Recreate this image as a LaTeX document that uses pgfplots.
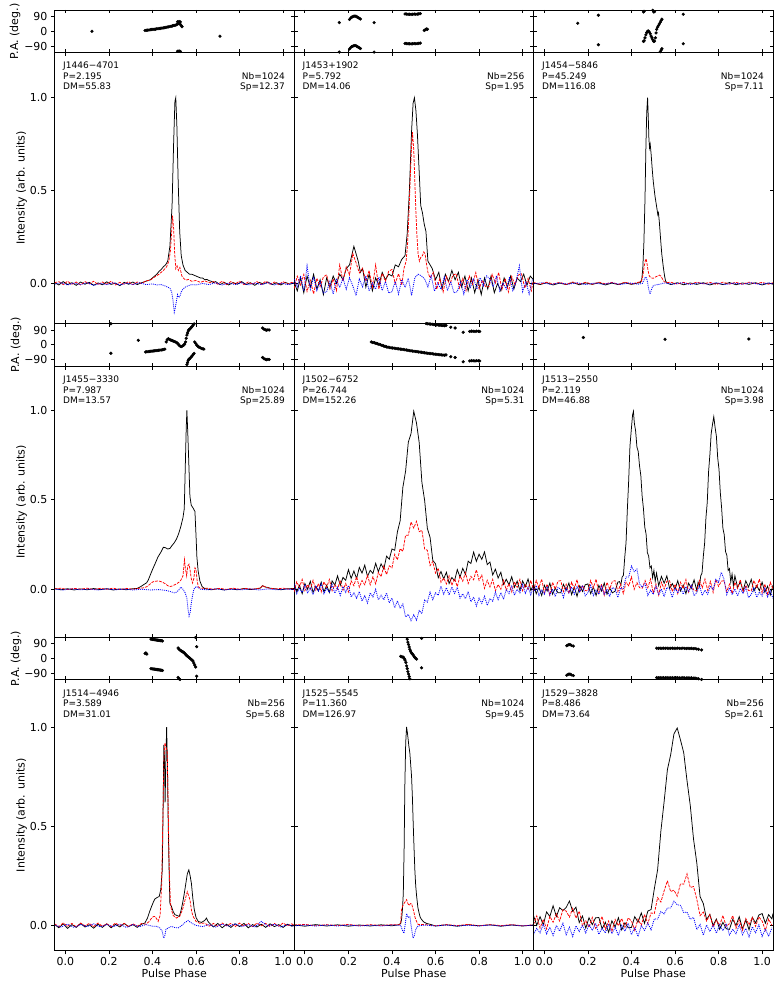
\documentclass[border=0pt]{standalone}
\usepackage{fontspec}
\setmainfont{DejaVu Sans}
\usepackage{pgfplots}
\pgfplotsset{compat=1.18}
\usepackage{pgfplotstable}

\pgfplotstableread{
x y
0.122 0
0.366 5
0.372 6
0.378 7
0.384 8
0.39 10
0.396 11
0.402 12
0.408 12
0.414 13
0.42 15
0.426 16
0.432 17
0.438 18
0.444 20
0.45 21
0.456 22
0.462 24
0.468 26
0.474 27
0.48 29
0.486 31
0.492 33
0.498 35
0.504 37
0.51 40
0.516 44
0.52 48
0.524 46
0.528 42
0.532 35
0.536 28
0.515 58
0.522 60
0.528 57
0.71 -30
}\paA
\pgfplotstableread{
x y
0.158 53
0.205 72
0.21 80
0.215 86
0.22 89
0.225 -88
0.23 -87
0.235 -89
0.24 87
0.245 83
0.25 79
0.255 75
0.318 53
0.46 -74
0.467 -75
0.474 -76
0.481 -76
0.488 -77
0.495 -76
0.502 -75
0.509 -76
0.516 -75
0.523 -74
0.53 -72
0.548 5
0.553 10
0.558 14
0.563 12
}\paB
\pgfplotstableread{
x y
0.153 49
0.248 -82
0.455 -62
0.458 -58
0.462 -40
0.466 -22
0.47 -8
0.474 0
0.478 2
0.482 -5
0.486 -15
0.49 -29
0.494 -40
0.498 -52
0.502 -62
0.506 -60
0.51 -40
0.513 -10
0.516 12
0.52 25
0.524 35
0.528 45
0.532 55
0.536 65
0.54 74
0.638 -76
}\paC
\pgfplotstableread{
x y
0.209 -51
0.335 28
0.368 -43
0.374 -42
0.38 -41
0.386 -40
0.392 -39
0.398 -38
0.404 -37
0.41 -36
0.416 -35
0.422 -34
0.428 -33
0.434 -32
0.44 -31
0.446 -30
0.452 -28
0.457 -26
0.463 18
0.468 32
0.473 38
0.478 33
0.483 30
0.488 28
0.493 25
0.498 22
0.503 20
0.508 16
0.513 12
0.518 5
0.523 -3
0.528 -9
0.533 -10
0.538 -7
0.543 -2
0.548 6
0.552 18
0.555 40
0.558 60
0.561 72
0.564 84
0.567 -88
0.571 -84
0.575 -78
0.579 -72
0.583 -66
0.587 -58
0.591 -52
0.594 18
0.599 8
0.604 -2
0.609 -9
0.614 -14
0.62 -18
0.626 -22
0.632 -24
0.636 -26
0.906 -77
0.912 -84
0.918 -88
0.924 -90
0.93 -88
0.936 -89
}\paD
\pgfplotstableread{
x y
0.305 18
0.312 15
0.319 13
0.326 10
0.333 7
0.34 4
0.347 1
0.354 -3
0.361 -6
0.368 -9
0.375 -12
0.382 -14
0.389 -16
0.396 -18
0.403 -19
0.41 -20
0.417 -22
0.424 -23
0.431 -24
0.438 -26
0.445 -27
0.452 -28
0.459 -30
0.466 -31
0.473 -33
0.48 -35
0.487 -36
0.494 -38
0.501 -39
0.508 -40
0.515 -41
0.522 -43
0.529 -44
0.536 -45
0.543 -47
0.55 -48
0.557 -50
0.564 -51
0.571 -52
0.578 -53
0.585 -54
0.592 -56
0.599 -57
0.606 -58
0.613 -59
0.62 -60
0.627 -61
0.634 -62
0.641 -63
0.648 -61
0.67 -72
0.69 -77
0.727 77
0.757 82
0.765 84
0.773 83
0.781 82
0.789 84
0.797 83
0.803 82
}\paE
\pgfplotstableread{
x y
0.179 45
0.554 34
0.939 36
}\paF
\pgfplotstableread{
x y
0.366 30
0.37 34
0.374 27
0.393 -62
0.398 -63
0.403 -64
0.408 -65
0.413 -66
0.418 -67
0.423 -68
0.428 -69
0.433 -70
0.438 -71
0.443 -72
0.446 -73
0.518 64
0.522 56
0.526 52
0.53 48
0.534 45
0.538 42
0.542 38
0.546 34
0.55 28
0.554 22
0.558 17
0.562 12
0.566 8
0.57 4
0.574 -1
0.578 -6
0.582 -10
0.586 -16
0.59 -28
0.594 -40
0.598 -52
0.603 72
}\paG
\pgfplotstableread{
x y
0.44 13
0.446 10
0.452 8
0.456 0
0.46 -10
0.464 -25
0.467 -45
0.47 -62
0.473 -80
0.476 85
0.479 70
0.482 56
0.485 45
0.489 35
0.493 28
0.497 22
0.501 14
0.505 6
0.509 1
0.513 -4
0.536 -57
}\paH
\pgfplotstableread{
x y
0.103 78
0.108 82
0.113 85
0.118 84
0.124 80
0.133 76
0.516 63
0.524 62
0.532 63
0.54 62
0.548 63
0.556 62
0.564 63
0.572 62
0.58 62
0.588 63
0.596 62
0.604 62
0.612 63
0.62 62
0.628 62
0.636 63
0.644 62
0.652 61
0.66 62
0.668 61
0.676 62
0.684 60
0.692 61
0.7 58
0.708 56
0.722 52
}\paI

\pgfplotsset{
  base/.style={scale only axis, width=239.5pt, xmin=-0.05, xmax=1.05,
    xtick={0,0.2,0.4,0.6,0.8,1.0}, xticklabels={}, yticklabels={},
    major tick length=3.5pt,
    tick style={line width=0.8pt, black},
    axis line style={line width=0.8pt, black},
    tick align=inside, xtick pos=both, ytick pos=both,
    anchor=south west, clip=true,
    tick label style={font=\fontsize{11}{13}\selectfont}},
  pap/.style={base, height=42.6pt, ymin=-130, ymax=130, ytick={-90,0,90}},
  intp/.style={base, height=271pt, ytick={0,0.5,1}},
  r1/.style={ymin=-0.216, ymax=1.243},
  r2/.style={ymin=-0.268, ymax=1.247},
  r3/.style={ymin=-0.128, ymax=1.238},
  Is/.style={black, line width=0.75pt},
  Ls/.style={red, line width=0.75pt, dash pattern=on 2.8pt off 1.2pt},
  Vs/.style={blue, line width=0.8pt, dash pattern=on 1pt off 1pt},
  pam/.style={only marks, mark=*, mark size=1.4pt, black},
}
\newcommand{\paplot}[1]{%
  \addplot[pam] table[x=x,y=y]{#1};
  \addplot[pam] table[x=x,y expr=\thisrow{y}+180]{#1};
  \addplot[pam] table[x=x,y expr=\thisrow{y}-180]{#1};
}
\newcommand{\annfont}{\fontsize{9}{10.5}\selectfont}
\newcommand{\lblfont}{\fontsize{11}{13}\selectfont}
\newcommand{\ann}[7]{%
  \node[anchor=base west,inner sep=0pt,font=\annfont] at ({#1+8.5},{#2-16.4}) {#3};
  \node[anchor=base west,inner sep=0pt,font=\annfont] at ({#1+8.5},{#2-27}) {P=#4};
  \node[anchor=base west,inner sep=0pt,font=\annfont] at ({#1+8.5},{#2-37.4}) {DM=#5};
  \node[anchor=base east,inner sep=0pt,font=\annfont] at ({#1+230.5},{#2-27}) {Nb=#6};
  \node[anchor=base east,inner sep=0pt,font=\annfont] at ({#1+230.5},{#2-37.4}) {Sp=#7};
}

\begin{document}
\begin{tikzpicture}[x=1pt,y=1pt]
\useasboundingbox (0,0) rectangle (781,991);

% ===================== ROW 1 =====================
\begin{axis}[pap, at={(54.5pt,938.4pt)}, ytick pos=right]
\paplot{\paA}
\end{axis}
\begin{axis}[pap, at={(54.5pt,938.4pt)}, ytick pos=left, tick align=outside, xtick=\empty, yticklabels={−90,0,90}]
\end{axis}
\begin{axis}[intp, r1, at={(54.5pt,667.4pt)}, ytick pos=right]
\addplot[Is] coordinates {(-0.05,0.005)(-0.03,-0.008)(-0.01,0.01)(0.01,-0.006)(0.03,0.004)(0.05,-0.01)(0.07,0.008)(0.09,-0.004)(0.11,0.006)(0.13,-0.01)(0.15,0.003)(0.17,-0.007)(0.19,0.009)(0.21,-0.005)(0.23,0.002)(0.25,-0.012)(0.27,0.006)(0.29,-0.004)(0.31,0.008)(0.33,-0.006)(0.35,0.004)(0.37,0.012)(0.39,0.02)(0.41,0.04)(0.42,0.05)(0.43,0.065)(0.44,0.075)(0.45,0.09)(0.46,0.1)(0.47,0.12)(0.48,0.2)(0.49,0.42)(0.497,0.75)(0.503,0.98)(0.507,1.0)(0.512,0.85)(0.518,0.55)(0.525,0.28)(0.532,0.15)(0.54,0.1)(0.55,0.07)(0.56,0.06)(0.57,0.05)(0.58,0.05)(0.59,0.045)(0.6,0.04)(0.61,0.035)(0.62,0.03)(0.63,0.03)(0.64,0.02)(0.65,0.022)(0.66,0.015)(0.67,0.012)(0.68,0.005)(0.69,0.01)(0.71,-0.006)(0.73,0.006)(0.75,-0.008)(0.77,0.005)(0.79,-0.004)(0.81,0.01)(0.83,-0.006)(0.85,0.004)(0.87,-0.01)(0.89,0.006)(0.91,-0.003)(0.93,0.008)(0.95,-0.006)(0.97,0.004)(0.99,-0.008)(1.01,0.006)(1.03,-0.004)(1.05,0.003)};
\addplot[Ls] coordinates {(-0.05,0.004)(-0.03,0.01)(-0.01,-0.006)(0.01,0.012)(0.03,-0.004)(0.05,0.008)(0.07,-0.008)(0.09,0.01)(0.11,-0.002)(0.13,0.012)(0.15,-0.006)(0.17,0.008)(0.19,-0.004)(0.21,0.012)(0.23,-0.008)(0.25,0.006)(0.27,-0.004)(0.29,0.01)(0.31,-0.006)(0.33,0.008)(0.35,0.0)(0.37,0.014)(0.39,0.018)(0.41,0.035)(0.43,0.05)(0.45,0.07)(0.465,0.09)(0.475,0.12)(0.482,0.17)(0.487,0.26)(0.492,0.365)(0.497,0.3)(0.502,0.16)(0.507,0.08)(0.513,0.095)(0.519,0.07)(0.526,0.086)(0.535,0.04)(0.545,0.025)(0.555,0.018)(0.565,0.022)(0.58,0.012)(0.6,0.016)(0.62,0.006)(0.64,0.014)(0.66,0.004)(0.68,0.01)(0.7,-0.004)(0.72,0.012)(0.74,-0.006)(0.76,0.01)(0.78,-0.002)(0.8,0.012)(0.82,-0.006)(0.84,0.008)(0.86,-0.004)(0.88,0.01)(0.9,-0.006)(0.92,0.012)(0.94,-0.004)(0.96,0.008)(0.98,-0.006)(1.0,0.01)(1.02,-0.004)(1.04,0.006)(1.05,0.0)};
\addplot[Vs] coordinates {(-0.05,-0.004)(-0.02,0.004)(0.01,-0.008)(0.04,0.002)(0.07,-0.006)(0.1,0.004)(0.13,-0.01)(0.16,0.0)(0.19,-0.006)(0.22,0.004)(0.25,-0.008)(0.28,0.002)(0.31,-0.006)(0.34,0.004)(0.37,-0.006)(0.4,-0.002)(0.42,-0.008)(0.44,-0.006)(0.455,-0.012)(0.47,-0.02)(0.48,-0.025)(0.488,-0.045)(0.494,-0.09)(0.5,-0.155)(0.505,-0.13)(0.51,-0.095)(0.515,-0.06)(0.52,-0.075)(0.526,-0.07)(0.532,-0.045)(0.54,-0.03)(0.55,-0.02)(0.56,-0.014)(0.58,-0.006)(0.6,-0.008)(0.63,0.0)(0.66,-0.006)(0.69,0.004)(0.72,-0.008)(0.75,0.002)(0.78,-0.006)(0.81,0.004)(0.84,-0.008)(0.87,0.002)(0.9,-0.006)(0.93,0.004)(0.96,-0.008)(0.99,0.002)(1.02,-0.006)(1.05,0.002)};
\end{axis}
\begin{axis}[intp, r1, at={(54.5pt,667.4pt)}, ytick pos=left, tick align=outside, xtick=\empty, yticklabels={0.0,0.5,1.0}]
\end{axis}

\begin{axis}[pap, at={(294pt,938.4pt)}]
\paplot{\paB}
\end{axis}
\begin{axis}[intp, r1, at={(294pt,667.4pt)}]
\addplot[Is] coordinates {(-0.05,0.01)(-0.035,-0.04)(-0.02,0.03)(-0.005,-0.05)(0.01,0.04)(0.025,-0.02)(0.04,0.05)(0.055,-0.03)(0.07,0.02)(0.085,-0.06)(0.1,0.03)(0.115,-0.02)(0.13,0.04)(0.145,0.0)(0.16,0.05)(0.175,0.02)(0.19,0.08)(0.205,0.1)(0.215,0.15)(0.225,0.2)(0.235,0.16)(0.245,0.12)(0.255,0.06)(0.265,0.08)(0.28,-0.02)(0.295,0.05)(0.31,-0.04)(0.325,0.03)(0.34,-0.01)(0.355,0.06)(0.37,0.02)(0.385,0.05)(0.4,0.04)(0.415,0.1)(0.43,0.09)(0.445,0.13)(0.46,0.15)(0.47,0.27)(0.48,0.5)(0.49,0.82)(0.497,0.97)(0.503,1.0)(0.51,0.93)(0.517,0.8)(0.525,0.6)(0.532,0.42)(0.54,0.38)(0.548,0.32)(0.556,0.28)(0.565,0.12)(0.575,0.1)(0.585,0.08)(0.6,0.02)(0.615,0.06)(0.63,-0.03)(0.645,0.05)(0.66,0.01)(0.675,0.07)(0.69,0.02)(0.705,0.06)(0.72,-0.02)(0.735,0.04)(0.75,-0.04)(0.765,0.03)(0.78,-0.05)(0.795,0.02)(0.81,-0.06)(0.825,0.03)(0.84,-0.03)(0.855,0.04)(0.87,-0.05)(0.885,0.0)(0.9,-0.04)(0.915,0.03)(0.93,-0.02)(0.945,0.04)(0.96,-0.03)(0.975,0.03)(0.99,0.01)(1.005,0.05)(1.02,-0.01)(1.035,0.04)(1.05,0.02)};
\addplot[Ls] coordinates {(-0.05,-0.028)(-0.035,0.039)(-0.02,-0.008)(-0.005,0.049)(0.01,-0.042)(0.025,0.017)(0.04,-0.056)(0.055,0.028)(0.07,-0.017)(0.085,0.035)(0.1,0.047)(0.115,-0.029)(0.13,0.025)(0.145,-0.039)(0.16,0.1)(0.175,0.011)(0.19,0.089)(0.205,0.046)(0.22,0.161)(0.235,0.112)(0.25,0.057)(0.265,0.082)(0.28,0.012)(0.295,0.07)(0.31,-0.02)(0.325,0.1)(0.34,-0.031)(0.355,0.055)(0.37,0.012)(0.385,0.066)(0.4,0.075)(0.415,-0.001)(0.43,0.053)(0.445,-0.009)(0.455,0.08)(0.465,0.12)(0.472,0.22)(0.478,0.38)(0.485,0.6)(0.49,0.74)(0.494,0.815)(0.5,0.72)(0.505,0.55)(0.51,0.38)(0.515,0.25)(0.52,0.16)(0.526,0.12)(0.532,0.14)(0.54,0.15)(0.546,0.17)(0.552,0.16)(0.558,0.11)(0.565,0.06)(0.575,0.03)(0.59,0.059)(0.605,-0.032)(0.62,0.027)(0.635,-0.046)(0.65,0.038)(0.665,-0.007)(0.68,0.045)(0.695,0.052)(0.71,-0.025)(0.725,0.027)(0.74,-0.039)(0.755,0.041)(0.77,-0.004)(0.785,0.059)(0.8,-0.029)(0.815,0.018)(0.83,-0.018)(0.845,-0.018)(0.86,0.049)(0.875,0.002)(0.89,0.059)(0.905,-0.032)(0.92,0.027)(0.935,-0.046)(0.95,0.038)(0.965,-0.007)(0.98,0.045)(0.995,0.052)(1.01,-0.025)(1.025,0.027)(1.04,-0.039)(1.05,0.02)};
\addplot[Vs] coordinates {(-0.05,0.024)(-0.035,-0.018)(-0.02,0.041)(-0.005,-0.041)(0.01,0.095)(0.025,-0.031)(0.04,0.034)(0.055,-0.038)(0.07,0.011)(0.085,-0.051)(0.1,-0.044)(0.115,0.011)(0.13,-0.057)(0.145,0.021)(0.16,-0.021)(0.175,0.028)(0.19,-0.031)(0.205,0.031)(0.22,-0.013)(0.235,-0.065)(0.25,0.024)(0.265,-0.018)(0.28,0.041)(0.295,-0.041)(0.31,0.003)(0.325,-0.031)(0.34,0.034)(0.355,-0.038)(0.37,0.011)(0.385,-0.051)(0.4,-0.044)(0.415,0.011)(0.43,-0.057)(0.445,0.021)(0.46,-0.021)(0.475,0.028)(0.49,-0.065)(0.505,0.031)(0.52,0.05)(0.535,0.041)(0.55,0.024)(0.565,-0.018)(0.58,0.041)(0.595,-0.041)(0.61,0.003)(0.625,-0.031)(0.64,0.034)(0.655,-0.038)(0.67,0.011)(0.685,-0.051)(0.7,-0.044)(0.715,0.011)(0.73,-0.057)(0.745,0.021)(0.76,-0.021)(0.775,0.028)(0.79,-0.031)(0.805,0.031)(0.82,-0.013)(0.835,0.041)(0.85,0.024)(0.865,-0.018)(0.88,0.041)(0.895,-0.041)(0.91,0.003)(0.925,-0.031)(0.94,0.034)(0.955,-0.038)(0.97,0.011)(0.985,0.095)(1.0,-0.044)(1.015,0.011)(1.03,-0.057)(1.045,0.021)};
\end{axis}

\begin{axis}[pap, at={(533.5pt,938.4pt)}]
\paplot{\paC}
\end{axis}
\begin{axis}[intp, r1, at={(533.5pt,667.4pt)}]
\addplot[Is] coordinates {(-0.05,0.003)(-0.02,-0.006)(0.01,0.004)(0.04,-0.008)(0.07,0.002)(0.1,-0.006)(0.13,0.005)(0.16,-0.007)(0.19,0.003)(0.22,-0.005)(0.25,0.004)(0.28,-0.008)(0.31,0.002)(0.34,-0.006)(0.37,0.004)(0.4,-0.005)(0.43,0.003)(0.44,0.005)(0.447,0.02)(0.452,0.08)(0.457,0.22)(0.462,0.45)(0.466,0.72)(0.47,0.92)(0.474,1.0)(0.477,0.9)(0.48,0.78)(0.483,0.73)(0.486,0.75)(0.49,0.7)(0.495,0.62)(0.5,0.55)(0.508,0.47)(0.516,0.41)(0.521,0.37)(0.524,0.38)(0.528,0.33)(0.533,0.25)(0.539,0.16)(0.546,0.09)(0.552,0.04)(0.557,0.012)(0.565,0.002)(0.58,-0.006)(0.61,0.004)(0.64,-0.007)(0.67,0.003)(0.7,-0.005)(0.73,0.004)(0.76,-0.008)(0.79,0.002)(0.82,-0.006)(0.85,0.005)(0.88,-0.007)(0.91,0.003)(0.94,-0.005)(0.97,0.004)(1.0,-0.008)(1.03,0.002)(1.05,-0.004)};
\addplot[Ls] coordinates {(-0.05,0.005)(-0.02,-0.004)(0.01,0.007)(0.04,-0.003)(0.07,0.006)(0.1,-0.005)(0.13,0.008)(0.16,-0.003)(0.19,0.006)(0.22,-0.004)(0.25,0.007)(0.28,-0.002)(0.31,0.006)(0.34,-0.005)(0.37,0.007)(0.4,-0.003)(0.43,0.006)(0.445,0.01)(0.452,0.04)(0.458,0.09)(0.463,0.12)(0.467,0.133)(0.471,0.11)(0.476,0.07)(0.482,0.04)(0.49,0.03)(0.5,0.028)(0.51,0.035)(0.52,0.04)(0.528,0.045)(0.535,0.04)(0.542,0.025)(0.55,0.01)(0.56,0.004)(0.58,0.007)(0.61,-0.003)(0.64,0.006)(0.67,-0.004)(0.7,0.007)(0.73,-0.002)(0.76,0.006)(0.79,-0.005)(0.82,0.007)(0.85,-0.003)(0.88,0.006)(0.91,-0.004)(0.94,0.007)(0.97,-0.002)(1.0,0.006)(1.03,-0.004)(1.05,0.004)};
\addplot[Vs] coordinates {(-0.05,-0.002)(-0.01,0.004)(0.03,-0.005)(0.07,0.003)(0.11,-0.004)(0.15,0.004)(0.19,-0.006)(0.23,0.002)(0.27,-0.004)(0.31,0.004)(0.35,-0.005)(0.39,0.003)(0.43,-0.004)(0.45,0.0)(0.458,0.02)(0.464,0.035)(0.469,0.03)(0.474,0.005)(0.479,-0.03)(0.485,-0.057)(0.49,-0.04)(0.497,-0.015)(0.51,-0.008)(0.53,-0.004)(0.55,0.003)(0.59,-0.004)(0.63,0.004)(0.67,-0.005)(0.71,0.003)(0.75,-0.004)(0.79,0.004)(0.83,-0.006)(0.87,0.002)(0.91,-0.004)(0.95,0.004)(0.99,-0.005)(1.03,0.003)(1.05,-0.002)};
\end{axis}

% ===================== ROW 2 =====================
\begin{axis}[pap, at={(54.5pt,624.8pt)}, ytick pos=right]
\paplot{\paD}
\end{axis}
\begin{axis}[pap, at={(54.5pt,624.8pt)}, ytick pos=left, tick align=outside, xtick=\empty, yticklabels={−90,0,90}]
\end{axis}
\begin{axis}[intp, r2, at={(54.5pt,353.8pt)}, ytick pos=right]
\addplot[Is] coordinates {(-0.05,0.004)(-0.02,-0.003)(0.01,0.003)(0.04,-0.004)(0.07,0.002)(0.1,-0.003)(0.13,0.004)(0.16,-0.002)(0.19,0.003)(0.22,-0.004)(0.25,0.002)(0.28,-0.003)(0.31,0.003)(0.33,0.005)(0.342,0.012)(0.355,0.022)(0.365,0.03)(0.373,0.036)(0.38,0.05)(0.39,0.08)(0.4,0.11)(0.411,0.14)(0.425,0.18)(0.44,0.21)(0.45,0.235)(0.46,0.232)(0.47,0.225)(0.48,0.228)(0.49,0.245)(0.5,0.26)(0.51,0.28)(0.52,0.31)(0.53,0.35)(0.54,0.4)(0.546,0.45)(0.551,0.7)(0.555,0.9)(0.558,1.0)(0.562,0.88)(0.567,0.7)(0.572,0.52)(0.578,0.47)(0.586,0.455)(0.595,0.435)(0.6,0.3)(0.604,0.18)(0.61,0.1)(0.618,0.045)(0.628,0.015)(0.64,0.004)(0.67,-0.003)(0.7,0.003)(0.73,-0.004)(0.76,0.002)(0.79,-0.003)(0.82,0.004)(0.85,-0.002)(0.88,0.003)(0.895,0.006)(0.905,0.02)(0.912,0.016)(0.92,0.012)(0.93,0.01)(0.94,0.006)(0.96,0.003)(0.99,-0.003)(1.02,0.003)(1.05,0.004)};
\addplot[Ls] coordinates {(-0.05,0.002)(-0.02,0.006)(0.01,-0.002)(0.04,0.005)(0.07,0.0)(0.1,0.006)(0.13,-0.002)(0.16,0.005)(0.19,0.0)(0.22,0.006)(0.25,-0.002)(0.28,0.005)(0.31,0.0)(0.34,0.006)(0.36,0.008)(0.375,0.015)(0.39,0.03)(0.4,0.04)(0.41,0.045)(0.43,0.046)(0.445,0.04)(0.46,0.03)(0.47,0.02)(0.48,0.015)(0.49,0.018)(0.5,0.024)(0.51,0.03)(0.52,0.038)(0.53,0.05)(0.54,0.075)(0.547,0.165)(0.552,0.11)(0.557,0.075)(0.562,0.13)(0.568,0.14)(0.573,0.105)(0.578,0.06)(0.584,0.035)(0.59,0.06)(0.595,0.12)(0.6,0.11)(0.605,0.05)(0.61,0.015)(0.62,0.005)(0.65,0.006)(0.68,0.0)(0.71,0.005)(0.74,-0.001)(0.77,0.006)(0.8,0.0)(0.83,0.005)(0.86,0.0)(0.89,0.006)(0.9,0.012)(0.907,0.022)(0.915,0.014)(0.925,0.01)(0.94,0.005)(0.97,0.002)(1.0,0.006)(1.03,0.0)(1.05,0.004)};
\addplot[Vs] coordinates {(-0.05,0.0)(-0.01,-0.004)(0.03,0.002)(0.07,-0.003)(0.11,0.001)(0.15,-0.004)(0.19,0.002)(0.23,-0.003)(0.27,0.001)(0.31,-0.004)(0.35,0.0)(0.39,-0.004)(0.43,-0.002)(0.46,-0.006)(0.48,-0.012)(0.5,-0.02)(0.51,-0.016)(0.52,-0.006)(0.53,0.012)(0.54,0.0)(0.55,-0.02)(0.558,-0.05)(0.563,-0.11)(0.568,-0.15)(0.573,-0.13)(0.578,-0.08)(0.584,-0.035)(0.59,0.0)(0.6,0.015)(0.61,0.01)(0.62,0.0)(0.65,-0.003)(0.69,0.002)(0.73,-0.004)(0.77,0.001)(0.81,-0.003)(0.85,0.002)(0.89,-0.004)(0.93,0.002)(0.97,-0.003)(1.01,0.001)(1.05,-0.002)};
\end{axis}
\begin{axis}[intp, r2, at={(54.5pt,353.8pt)}, ytick pos=left, tick align=outside, xtick=\empty, yticklabels={0.0,0.5,1.0}]
\end{axis}

\begin{axis}[pap, at={(294pt,624.8pt)}]
\paplot{\paE}
\end{axis}
\begin{axis}[intp, r2, at={(294pt,353.8pt)}]
\addplot[Is] coordinates {(-0.05,0.04)(-0.0375,-0.015)(-0.025,0.022)(-0.0125,-0.025)(0,0.032)(0.0125,0.0)(0.025,0.045)(0.0375,-0.018)(0.05,0.016)(0.0625,-0.01)(0.075,0.04)(0.0875,-0.015)(0.1,0.022)(0.1125,-0.018)(0.125,0.047)(0.1375,0.023)(0.15,0.075)(0.1625,0.022)(0.175,0.066)(0.1875,0.05)(0.2,0.11)(0.2125,0.06)(0.225,0.102)(0.2375,0.06)(0.25,0.122)(0.2625,0.09)(0.275,0.135)(0.2875,0.072)(0.3,0.106)(0.3125,0.088)(0.325,0.145)(0.3375,0.098)(0.35,0.142)(0.3625,0.112)(0.375,0.185)(0.3875,0.168)(0.4,0.225)(0.4125,0.218)(0.425,0.321)(0.4375,0.383)(0.45,0.57)(0.4625,0.66)(0.475,0.822)(0.4875,0.87)(0.5,0.995)(0.5125,0.93)(0.525,0.82)(0.5375,0.597)(0.55,0.496)(0.5625,0.34)(0.575,0.29)(0.5875,0.161)(0.6,0.142)(0.6125,0.064)(0.625,0.099)(0.6375,0.058)(0.65,0.095)(0.6625,0.032)(0.675,0.066)(0.6875,0.048)(0.7,0.11)(0.7125,0.068)(0.725,0.117)(0.7375,0.083)(0.75,0.157)(0.7625,0.144)(0.775,0.208)(0.7875,0.156)(0.8,0.196)(0.8125,0.167)(0.825,0.209)(0.8375,0.138)(0.85,0.152)(0.8625,0.08)(0.875,0.112)(0.8875,0.063)(0.9,0.095)(0.9125,0.027)(0.925,0.056)(0.9375,0.025)(0.95,0.07)(0.9625,0.011)(0.975,0.045)(0.9875,-0.006)(1.0,0.047)(1.0125,0.014)(1.025,0.058)(1.0375,-0.007)(1.05,0.026)};
\addplot[Ls] coordinates {(-0.05,-0.015)(-0.0375,0.042)(-0.025,0.01)(-0.0125,0.055)(0,-0.008)(0.0125,0.026)(0.025,0.0)(0.0375,0.05)(0.05,-0.005)(0.0625,0.032)(0.075,-0.015)(0.0875,0.042)(0.1,0.01)(0.1125,0.055)(0.125,-0.008)(0.1375,0.026)(0.15,0.0)(0.1625,0.05)(0.175,-0.005)(0.1875,0.032)(0.2,-0.015)(0.2125,0.047)(0.225,0.02)(0.2375,0.07)(0.25,0.012)(0.2625,0.049)(0.275,0.025)(0.2875,0.078)(0.3,0.025)(0.3125,0.07)(0.325,0.03)(0.3375,0.095)(0.35,0.07)(0.3625,0.13)(0.375,0.082)(0.3875,0.131)(0.4,0.12)(0.4125,0.195)(0.425,0.165)(0.4375,0.227)(0.45,0.212)(0.4625,0.302)(0.475,0.302)(0.4875,0.376)(0.5,0.342)(0.5125,0.38)(0.525,0.322)(0.5375,0.33)(0.55,0.225)(0.5625,0.218)(0.575,0.132)(0.5875,0.155)(0.6,0.09)(0.6125,0.118)(0.625,0.039)(0.6375,0.063)(0.65,0.03)(0.6625,0.075)(0.675,0.022)(0.6875,0.06)(0.7,0.015)(0.7125,0.075)(0.725,0.045)(0.7375,0.093)(0.75,0.032)(0.7625,0.072)(0.775,0.053)(0.7875,0.109)(0.8,0.05)(0.8125,0.079)(0.825,0.005)(0.8375,0.05)(0.85,0.013)(0.8625,0.055)(0.875,-0.008)(0.8875,0.026)(0.9,0.0)(0.9125,0.05)(0.925,-0.005)(0.9375,0.032)(0.95,-0.015)(0.9625,0.042)(0.975,0.01)(0.9875,0.055)(1.0,-0.008)(1.0125,0.026)(1.025,0.0)(1.0375,0.05)(1.05,-0.005)};
\addplot[Vs] coordinates {(-0.05,0.031)(-0.0375,-0.025)(-0.025,0.005)(-0.0125,-0.018)(0,0.027)(0.0125,-0.022)(0.025,0.011)(0.0375,-0.031)(0.05,0.02)(0.0625,-0.009)(0.075,0.031)(0.0875,-0.025)(0.1,0.005)(0.1125,-0.018)(0.125,0.027)(0.1375,-0.022)(0.15,0.011)(0.1625,-0.034)(0.175,0.015)(0.1875,-0.017)(0.2,0.021)(0.2125,-0.043)(0.225,-0.02)(0.2375,-0.05)(0.25,-0.013)(0.2625,-0.066)(0.275,-0.037)(0.2875,-0.077)(0.3,-0.02)(0.3125,-0.043)(0.325,0.0)(0.3375,-0.059)(0.35,-0.033)(0.3625,-0.059)(0.375,-0.02)(0.3875,-0.076)(0.4,-0.049)(0.4125,-0.104)(0.425,-0.065)(0.4375,-0.107)(0.45,-0.082)(0.4625,-0.155)(0.475,-0.14)(0.4875,-0.176)(0.5,-0.143)(0.5125,-0.173)(0.525,-0.119)(0.5375,-0.136)(0.55,-0.06)(0.5625,-0.072)(0.575,-0.016)(0.5875,-0.058)(0.6,-0.02)(0.6125,-0.034)(0.625,0.018)(0.6375,-0.028)(0.65,0.009)(0.6625,-0.032)(0.675,0.013)(0.6875,-0.023)(0.7,0.011)(0.7125,-0.05)(0.725,-0.025)(0.7375,-0.053)(0.75,-0.013)(0.7625,-0.07)(0.775,-0.044)(0.7875,-0.094)(0.8,-0.05)(0.8125,-0.079)(0.825,-0.039)(0.8375,-0.09)(0.85,-0.052)(0.8625,-0.067)(0.875,-0.016)(0.8875,-0.058)(0.9,-0.019)(0.9125,-0.056)(0.925,0.0)(0.9375,-0.024)(0.95,0.021)(0.9625,-0.033)(0.975,0.0)(0.9875,-0.02)(1.0,0.027)(1.0125,-0.022)(1.025,0.011)(1.0375,-0.031)(1.05,0.02)};
\end{axis}

\begin{axis}[pap, at={(533.5pt,624.8pt)}]
\paplot{\paF}
\end{axis}
\begin{axis}[intp, r2, at={(533.5pt,353.8pt)}]
\addplot[Is] coordinates {(-0.05,0.03)(-0.0375,-0.025)(-0.025,0.012)(-0.0125,-0.035)(0,0.022)(0.0125,-0.01)(0.025,0.035)(0.0375,-0.028)(0.05,0.006)(0.0625,-0.02)(0.075,-0.02)(0.0875,0.028)(0.1,-0.006)(0.1125,0.035)(0.125,-0.03)(0.1375,0.012)(0.15,-0.04)(0.1625,0.02)(0.175,-0.012)(0.1875,0.025)(0.2,0.03)(0.2125,-0.025)(0.225,0.012)(0.2375,-0.035)(0.25,0.022)(0.2625,-0.01)(0.275,0.035)(0.2875,-0.028)(0.3,0.006)(0.3125,-0.02)(0.325,-0.01)(0.3375,0.04)(0.345,0.043)(0.351,0.022)(0.357,0.068)(0.363,0.078)(0.369,0.177)(0.375,0.26)(0.381,0.445)(0.387,0.603)(0.393,0.8)(0.399,0.89)(0.405,0.975)(0.409,0.995)(0.413,0.93)(0.419,0.885)(0.425,0.795)(0.431,0.77)(0.437,0.69)(0.443,0.635)(0.449,0.52)(0.455,0.45)(0.461,0.348)(0.467,0.31)(0.473,0.205)(0.479,0.185)(0.485,0.12)(0.491,0.13)(0.497,0.065)(0.503,0.105)(0.509,0.045)(0.515,0.09)(0.525,0.02)(0.5375,0.072)(0.55,0.034)(0.5625,0.075)(0.575,0.004)(0.5875,0.032)(0.6,0.0)(0.6125,0.048)(0.625,-0.01)(0.6375,0.024)(0.65,-0.025)(0.6625,0.034)(0.675,0.005)(0.6875,0.053)(0.7,-0.008)(0.706,0.04)(0.712,0.015)(0.718,0.075)(0.724,0.09)(0.73,0.185)(0.736,0.258)(0.742,0.4)(0.748,0.485)(0.754,0.655)(0.76,0.75)(0.766,0.87)(0.772,0.92)(0.778,0.965)(0.784,0.905)(0.79,0.855)(0.796,0.735)(0.802,0.67)(0.808,0.54)(0.814,0.455)(0.82,0.34)(0.826,0.305)(0.832,0.21)(0.838,0.19)(0.844,0.105)(0.85,0.115)(0.856,0.04)(0.862,0.085)(0.868,0.02)(0.875,0.075)(0.8875,0.01)(0.9,0.042)(0.9125,-0.008)(0.925,0.047)(0.9375,0.012)(0.95,0.055)(0.9625,-0.011)(0.975,0.021)(0.9875,-0.008)(1.0,0.04)(1.0125,-0.017)(1.025,0.017)(1.0375,-0.032)(1.05,0.022)};
\addplot[Ls] coordinates {(-0.05,-0.009)(-0.0375,0.049)(-0.025,0.008)(-0.0125,0.057)(0,-0.021)(0.0125,0.029)(0.025,-0.033)(0.0375,0.039)(0.05,0.001)(0.0625,0.045)(0.075,0.048)(0.0875,-0.013)(0.1,0.028)(0.1125,-0.024)(0.125,0.039)(0.1375,0.004)(0.15,0.054)(0.1625,-0.016)(0.175,0.022)(0.1875,-0.007)(0.2,-0.009)(0.2125,0.049)(0.225,0.008)(0.2375,0.057)(0.25,-0.021)(0.2625,0.029)(0.275,-0.033)(0.2875,0.039)(0.3,0.001)(0.3125,0.045)(0.325,0.048)(0.3375,-0.013)(0.35,0.028)(0.3625,-0.024)(0.375,0.039)(0.3875,0.019)(0.4,0.069)(0.4125,-0.001)(0.425,0.037)(0.4375,0.008)(0.45,0.006)(0.4625,0.049)(0.475,0.008)(0.4875,0.057)(0.5,-0.021)(0.5125,0.029)(0.525,-0.033)(0.5375,0.039)(0.55,0.001)(0.5625,0.045)(0.575,0.048)(0.5875,-0.013)(0.6,0.028)(0.6125,-0.024)(0.625,0.039)(0.6375,0.004)(0.65,0.054)(0.6625,-0.016)(0.675,0.022)(0.6875,-0.007)(0.7,-0.009)(0.7125,0.049)(0.725,0.008)(0.7375,0.057)(0.75,-0.006)(0.7625,0.044)(0.775,-0.018)(0.7875,0.054)(0.8,0.016)(0.8125,0.045)(0.825,0.048)(0.8375,-0.013)(0.85,0.028)(0.8625,-0.024)(0.875,0.039)(0.8875,0.004)(0.9,0.054)(0.9125,-0.016)(0.925,0.022)(0.9375,-0.007)(0.95,-0.009)(0.9625,0.049)(0.975,0.008)(0.9875,0.057)(1.0,-0.021)(1.0125,0.029)(1.025,-0.033)(1.0375,0.039)(1.05,0.001)};
\addplot[Vs] coordinates {(-0.05,-0.019)(-0.0375,0.021)(-0.025,-0.035)(-0.0125,-0.005)(0,-0.028)(0.0125,0.017)(0.025,-0.032)(0.0375,0.001)(0.05,-0.041)(0.0625,0.01)(0.075,0.001)(0.0875,-0.046)(0.1,0.008)(0.1125,-0.021)(0.125,0.012)(0.1375,-0.028)(0.15,0.015)(0.1625,-0.015)(0.175,0.021)(0.1875,-0.037)(0.2,-0.019)(0.2125,0.021)(0.225,-0.035)(0.2375,-0.005)(0.25,-0.028)(0.2625,0.017)(0.275,-0.032)(0.2875,0.001)(0.3,-0.041)(0.3125,0.01)(0.325,0.001)(0.3375,-0.046)(0.35,0.008)(0.3625,0.004)(0.375,0.069)(0.3875,0.069)(0.4,0.13)(0.4125,0.098)(0.425,0.113)(0.4375,0.028)(0.45,0.011)(0.4625,0.032)(0.475,-0.035)(0.4875,-0.005)(0.5,-0.028)(0.5125,0.017)(0.525,-0.032)(0.5375,0.001)(0.55,-0.041)(0.5625,0.01)(0.575,0.001)(0.5875,-0.046)(0.6,0.008)(0.6125,-0.021)(0.625,0.012)(0.6375,-0.028)(0.65,0.015)(0.6625,-0.015)(0.675,0.021)(0.6875,-0.037)(0.7,-0.019)(0.7125,0.021)(0.725,-0.035)(0.7375,-0.005)(0.75,-0.028)(0.7625,0.019)(0.775,-0.002)(0.7875,0.056)(0.8,0.039)(0.8125,0.095)(0.825,0.056)(0.8375,-0.03)(0.85,0.008)(0.8625,-0.031)(0.875,0.002)(0.8875,-0.038)(0.9,0.005)(0.9125,-0.025)(0.925,0.011)(0.9375,-0.047)(0.95,-0.029)(0.9625,0.011)(0.975,-0.045)(0.9875,-0.015)(1.0,-0.038)(1.0125,0.007)(1.025,-0.042)(1.0375,-0.009)(1.05,-0.051)};
\end{axis}

% ===================== ROW 3 =====================
\begin{axis}[pap, at={(54.5pt,311.2pt)}, ytick pos=right]
\paplot{\paG}
\end{axis}
\begin{axis}[pap, at={(54.5pt,311.2pt)}, ytick pos=left, tick align=outside, xtick=\empty, yticklabels={−90,0,90}]
\end{axis}
\begin{axis}[intp, r3, at={(54.5pt,40.2pt)}, ytick pos=right, xtick pos=right]
\addplot[Is] coordinates {(-0.05,0.005)(-0.03,-0.012)(-0.01,0.008)(0.01,-0.015)(0.03,0.004)(0.05,-0.01)(0.07,0.01)(0.09,-0.008)(0.11,0.003)(0.13,-0.014)(0.15,0.006)(0.17,-0.01)(0.19,0.008)(0.21,-0.012)(0.23,0.005)(0.25,-0.008)(0.27,0.01)(0.29,-0.006)(0.31,0.004)(0.33,-0.01)(0.35,0.006)(0.365,0.012)(0.377,0.037)(0.387,0.07)(0.396,0.096)(0.405,0.12)(0.411,0.133)(0.42,0.14)(0.431,0.146)(0.438,0.18)(0.445,0.28)(0.449,0.6)(0.452,0.91)(0.455,0.85)(0.458,0.62)(0.461,0.8)(0.465,1.0)(0.469,0.8)(0.472,0.53)(0.476,0.3)(0.48,0.11)(0.487,0.096)(0.495,0.07)(0.503,0.054)(0.513,0.05)(0.523,0.045)(0.53,0.07)(0.538,0.11)(0.546,0.16)(0.553,0.21)(0.56,0.26)(0.567,0.28)(0.573,0.25)(0.579,0.21)(0.585,0.14)(0.592,0.08)(0.6,0.04)(0.61,0.02)(0.625,0.015)(0.64,0.025)(0.648,0.037)(0.655,0.02)(0.663,0.01)(0.68,-0.008)(0.7,0.01)(0.72,-0.012)(0.74,0.006)(0.76,-0.01)(0.78,0.008)(0.8,-0.006)(0.82,0.01)(0.84,-0.012)(0.86,0.004)(0.88,-0.008)(0.9,0.006)(0.92,-0.01)(0.94,0.008)(0.96,-0.006)(0.98,0.004)(1.0,-0.01)(1.02,0.006)(1.04,-0.004)(1.05,0.002)};
\addplot[Ls] coordinates {(-0.05,0.008)(-0.03,-0.006)(-0.01,0.012)(0.01,-0.004)(0.03,0.01)(0.05,-0.008)(0.07,0.012)(0.09,-0.002)(0.11,0.01)(0.13,-0.006)(0.15,0.012)(0.17,-0.004)(0.19,0.008)(0.21,-0.006)(0.23,0.012)(0.25,-0.002)(0.27,0.01)(0.29,-0.006)(0.31,0.008)(0.33,-0.004)(0.35,0.01)(0.37,0.006)(0.385,0.02)(0.396,0.037)(0.405,0.045)(0.411,0.045)(0.418,0.035)(0.426,0.02)(0.435,0.05)(0.442,0.2)(0.449,0.62)(0.453,0.85)(0.457,0.92)(0.462,0.9)(0.468,0.87)(0.472,0.6)(0.477,0.28)(0.482,0.12)(0.487,0.08)(0.495,0.05)(0.51,0.037)(0.525,0.045)(0.538,0.08)(0.55,0.13)(0.56,0.17)(0.566,0.15)(0.572,0.13)(0.58,0.07)(0.587,0.045)(0.6,0.02)(0.618,0.01)(0.64,0.012)(0.66,-0.004)(0.68,0.01)(0.7,-0.006)(0.72,0.012)(0.74,-0.002)(0.76,0.01)(0.78,-0.006)(0.8,0.012)(0.82,-0.004)(0.84,0.01)(0.86,-0.006)(0.88,0.012)(0.9,-0.002)(0.92,0.01)(0.94,-0.006)(0.96,0.01)(0.98,-0.004)(1.0,0.012)(1.02,-0.002)(1.04,0.008)(1.05,0.0)};
\addplot[Vs] coordinates {(-0.05,0.002)(-0.02,-0.008)(0.01,0.006)(0.04,-0.01)(0.07,0.004)(0.1,-0.006)(0.13,0.008)(0.16,-0.008)(0.19,0.004)(0.22,-0.006)(0.25,0.006)(0.28,-0.01)(0.31,0.004)(0.34,-0.006)(0.37,0.004)(0.4,-0.004)(0.42,-0.005)(0.434,-0.013)(0.445,-0.03)(0.451,-0.064)(0.456,-0.055)(0.462,-0.02)(0.472,-0.013)(0.487,-0.005)(0.5,-0.01)(0.518,-0.013)(0.535,0.0)(0.55,0.015)(0.564,0.025)(0.575,0.015)(0.59,0.005)(0.6,0.0)(0.63,-0.006)(0.66,0.004)(0.69,-0.008)(0.72,0.006)(0.75,-0.004)(0.78,0.008)(0.81,-0.006)(0.84,0.004)(0.87,-0.008)(0.9,0.02)(0.93,-0.004)(0.96,0.006)(0.99,-0.008)(1.02,0.004)(1.05,-0.004)};
\end{axis}
\begin{axis}[intp, r3, at={(54.5pt,40.2pt)}, ytick pos=left, xtick pos=left, tick align=outside, yticklabels={0.0,0.5,1.0}, xticklabels={0.0,0.2,0.4,0.6,0.8,1.0}]
\end{axis}

\begin{axis}[pap, at={(294pt,311.2pt)}]
\paplot{\paH}
\end{axis}
\begin{axis}[intp, r3, at={(294pt,40.2pt)}, xtick pos=right]
\addplot[Is] coordinates {(-0.05,0.003)(0.0,-0.004)(0.05,0.004)(0.1,-0.003)(0.15,0.003)(0.2,-0.004)(0.25,0.002)(0.3,-0.003)(0.35,0.003)(0.4,-0.002)(0.43,0.003)(0.44,0.01)(0.444,0.03)(0.448,0.08)(0.452,0.16)(0.456,0.4)(0.459,0.7)(0.463,0.92)(0.467,1.0)(0.471,0.97)(0.474,0.94)(0.478,0.9)(0.482,0.87)(0.486,0.81)(0.49,0.75)(0.494,0.64)(0.497,0.53)(0.501,0.4)(0.505,0.28)(0.509,0.2)(0.513,0.15)(0.519,0.09)(0.525,0.06)(0.53,0.04)(0.536,0.03)(0.545,0.018)(0.559,0.01)(0.58,0.004)(0.6,-0.003)(0.65,0.003)(0.7,-0.004)(0.75,0.003)(0.8,-0.002)(0.85,0.003)(0.9,-0.004)(0.95,0.002)(1.0,-0.003)(1.05,0.002)};
\addplot[Ls] coordinates {(-0.05,0.002)(0.0,0.005)(0.05,-0.002)(0.1,0.004)(0.15,-0.001)(0.2,0.005)(0.25,-0.002)(0.3,0.004)(0.35,-0.001)(0.4,0.004)(0.435,0.003)(0.44,0.01)(0.444,0.08)(0.45,0.1)(0.455,0.11)(0.461,0.12)(0.467,0.13)(0.473,0.11)(0.479,0.1)(0.485,0.11)(0.49,0.11)(0.495,0.09)(0.5,0.07)(0.506,0.04)(0.513,0.02)(0.52,0.005)(0.55,0.004)(0.6,-0.002)(0.65,0.004)(0.7,-0.001)(0.75,0.005)(0.8,-0.002)(0.85,0.004)(0.9,-0.001)(0.95,0.004)(1.0,-0.002)(1.05,0.003)};
\addplot[Vs] coordinates {(-0.05,-0.002)(0.0,0.002)(0.05,-0.003)(0.1,0.002)(0.15,-0.003)(0.2,0.002)(0.25,-0.003)(0.3,0.001)(0.35,-0.003)(0.4,0.002)(0.44,0.0)(0.444,-0.013)(0.45,-0.03)(0.455,-0.04)(0.46,0.0)(0.467,0.06)(0.474,0.04)(0.482,0.045)(0.488,0.0)(0.493,-0.04)(0.497,-0.064)(0.503,-0.05)(0.508,-0.025)(0.513,-0.013)(0.52,-0.003)(0.55,0.002)(0.6,-0.003)(0.65,0.002)(0.7,-0.003)(0.75,0.001)(0.8,-0.003)(0.85,0.002)(0.9,-0.003)(0.95,0.002)(1.0,-0.002)(1.05,0.001)};
\end{axis}
\begin{axis}[intp, r3, at={(294pt,40.2pt)}, xtick pos=left, tick align=outside, ytick=\empty, xticklabels={0.0,0.2,0.4,0.6,0.8,1.0}]
\end{axis}

\begin{axis}[pap, at={(533.5pt,311.2pt)}]
\paplot{\paI}
\end{axis}
\begin{axis}[intp, r3, at={(533.5pt,40.2pt)}, xtick pos=right]
\addplot[Is] coordinates {(-0.05,0.05)(-0.035,0.001)(-0.02,0.044)(-0.005,0.003)(0.01,0.068)(0.025,0.045)(0.04,0.099)(0.055,0.045)(0.07,0.089)(0.085,0.075)(0.1,0.09)(0.115,0.123)(0.13,0.071)(0.145,0.092)(0.16,0.014)(0.175,0.047)(0.19,-0.014)(0.205,0.039)(0.22,0.004)(0.235,0.038)(0.25,0.04)(0.265,-0.017)(0.28,0.016)(0.295,-0.035)(0.31,0.023)(0.325,-0.008)(0.34,0.039)(0.355,-0.023)(0.37,0.013)(0.385,-0.012)(0.4,-0.01)(0.415,0.044)(0.43,0.016)(0.445,0.063)(0.46,0.01)(0.475,0.072)(0.49,0.08)(0.505,0.185)(0.52,0.28)(0.535,0.475)(0.55,0.625)(0.565,0.785)(0.58,0.86)(0.595,0.965)(0.61,0.995)(0.625,0.935)(0.64,0.87)(0.655,0.73)(0.67,0.605)(0.685,0.435)(0.7,0.315)(0.715,0.145)(0.73,0.11)(0.745,0.03)(0.76,0.055)(0.775,0.0)(0.79,0.032)(0.805,-0.02)(0.82,0.016)(0.835,-0.017)(0.85,-0.02)(0.865,0.031)(0.88,0.0)(0.895,0.044)(0.91,-0.018)(0.925,0.027)(0.94,-0.022)(0.955,0.041)(0.97,0.012)(0.985,0.052)(1.0,0.06)(1.015,0.011)(1.03,0.054)(1.045,0.033)(1.05,0.06)};
\addplot[Ls] coordinates {(-0.05,0.004)(-0.035,0.048)(-0.02,-0.014)(-0.005,0.031)(0.01,-0.018)(0.025,0.045)(0.04,0.016)(0.055,0.058)(0.07,0.022)(0.085,0.079)(0.1,0.072)(0.115,0.042)(0.13,0.086)(0.145,0.037)(0.16,0.072)(0.175,-0.001)(0.19,0.023)(0.205,-0.01)(0.22,0.04)(0.235,-0.015)(0.25,0.004)(0.265,0.045)(0.28,-0.02)(0.295,0.022)(0.31,-0.03)(0.325,0.03)(0.34,-0.002)(0.355,0.035)(0.37,-0.01)(0.385,0.038)(0.4,0.022)(0.415,-0.025)(0.43,0.032)(0.445,0.0)(0.46,0.055)(0.475,0.009)(0.49,0.063)(0.505,0.06)(0.52,0.14)(0.535,0.118)(0.55,0.174)(0.565,0.225)(0.58,0.17)(0.595,0.178)(0.61,0.147)(0.625,0.21)(0.64,0.208)(0.655,0.26)(0.67,0.191)(0.685,0.196)(0.7,0.132)(0.715,0.049)(0.73,0.067)(0.745,0.022)(0.76,0.055)(0.775,-0.008)(0.79,0.026)(0.805,0.0)(0.82,0.05)(0.835,-0.005)(0.85,0.009)(0.865,0.05)(0.88,-0.015)(0.895,0.027)(0.91,-0.025)(0.925,0.035)(0.94,0.003)(0.955,0.04)(0.97,-0.005)(0.985,0.043)(1.0,0.022)(1.015,-0.025)(1.03,0.032)(1.045,0.0)};
\addplot[Vs] coordinates {(-0.05,-0.045)(-0.035,-0.015)(-0.02,-0.038)(-0.005,0.007)(0.01,-0.042)(0.025,-0.009)(0.04,-0.051)(0.055,0.0)(0.07,-0.029)(0.085,0.011)(0.1,-0.047)(0.115,-0.009)(0.13,-0.056)(0.145,-0.002)(0.16,-0.031)(0.175,0.002)(0.19,-0.038)(0.205,0.005)(0.22,-0.025)(0.235,0.011)(0.25,-0.045)(0.265,-0.015)(0.28,-0.038)(0.295,0.007)(0.31,-0.042)(0.325,-0.009)(0.34,-0.051)(0.355,0.0)(0.37,-0.029)(0.385,0.011)(0.4,-0.047)(0.415,-0.009)(0.43,-0.056)(0.445,-0.002)(0.46,-0.025)(0.475,0.012)(0.49,-0.022)(0.505,0.033)(0.52,0.032)(0.535,0.07)(0.55,0.058)(0.565,0.088)(0.58,0.088)(0.595,0.122)(0.61,0.104)(0.625,0.101)(0.64,0.065)(0.655,0.067)(0.67,0.031)(0.685,0.04)(0.7,-0.021)(0.715,0.005)(0.73,-0.049)(0.745,0.002)(0.76,-0.031)(0.775,0.002)(0.79,-0.039)(0.805,0.004)(0.82,-0.027)(0.835,0.008)(0.85,-0.048)(0.865,-0.019)(0.88,-0.042)(0.895,0.002)(0.91,-0.047)(0.925,-0.015)(0.94,-0.058)(0.955,-0.007)(0.97,-0.037)(0.985,0.003)(1.0,-0.056)(1.015,-0.018)(1.03,-0.055)(1.045,-0.012)};
\end{axis}
\begin{axis}[intp, r3, at={(533.5pt,40.2pt)}, xtick pos=left, tick align=outside, ytick=\empty, xticklabels={0.0,0.2,0.4,0.6,0.8,1.0}]
\end{axis}

% ===================== annotations =====================
\ann{54.5}{938.4}{J1446−4701}{2.195}{55.83}{1024}{12.37}
\ann{294}{938.4}{J1453+1902}{5.792}{14.06}{256}{1.95}
\ann{533.5}{938.4}{J1454−5846}{45.249}{116.08}{1024}{7.11}
\ann{54.5}{624.8}{J1455−3330}{7.987}{13.57}{1024}{25.89}
\ann{294}{624.8}{J1502−6752}{26.744}{152.26}{1024}{5.31}
\ann{533.5}{624.8}{J1513−2550}{2.119}{46.88}{1024}{3.98}
\ann{54.5}{311.2}{J1514−4946}{3.589}{31.01}{256}{5.68}
\ann{294}{311.2}{J1525−5545}{11.360}{126.97}{1024}{9.45}
\ann{533.5}{311.2}{J1529−3828}{8.486}{73.64}{256}{2.61}

% axis labels
\node[rotate=90,font=\lblfont] at (15,959.7) {P.A. (deg.)};
\node[rotate=90,font=\lblfont] at (16,646.1) {P.A. (deg.)};
\node[rotate=90,font=\lblfont] at (16,332.5) {P.A. (deg.)};
\node[rotate=90,font=\lblfont] at (21.7,802.9) {Intensity (arb. units)};
\node[rotate=90,font=\lblfont] at (21.7,489.3) {Intensity (arb. units)};
\node[rotate=90,font=\lblfont] at (21.7,175.7) {Intensity (arb. units)};
\node[font=\lblfont] at (174.25,17.7) {Pulse Phase};
\node[font=\lblfont] at (413.75,17.7) {Pulse Phase};
\node[font=\lblfont] at (653.25,17.7) {Pulse Phase};
\end{tikzpicture}
\end{document}
